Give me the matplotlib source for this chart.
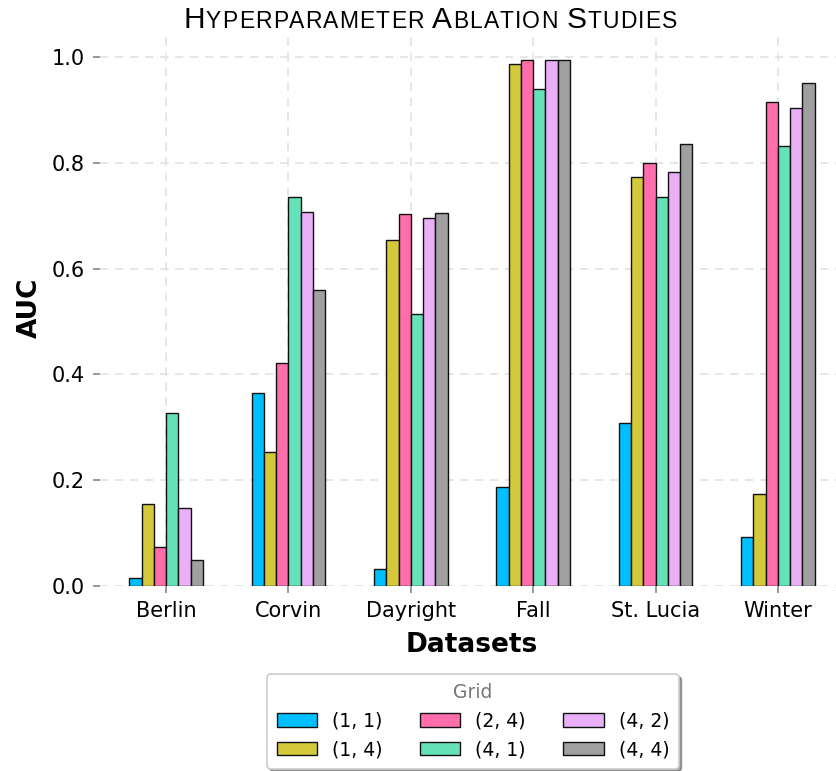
import matplotlib
matplotlib.use("Agg")
import matplotlib.pyplot as plt
import numpy as np
from matplotlib.offsetbox import TextArea, HPacker, AnnotationBbox

datasets = ["Berlin", "Corvin", "Dayright", "Fall", "St. Lucia", "Winter"]
grids = ["(1, 1)", "(1, 4)", "(2, 4)", "(4, 1)", "(4, 2)", "(4, 4)"]

auc_1_1 = [0.016, 0.365, 0.032, 0.188, 0.308, 0.093]
auc_1_4 = [0.155, 0.253, 0.654, 0.987, 0.774, 0.174]
auc_2_4 = [0.074, 0.421, 0.703, 0.995, 0.800, 0.915]
auc_4_1 = [0.327, 0.735, 0.514, 0.940, 0.735, 0.832]
auc_4_2 = [0.147, 0.707, 0.696, 0.995, 0.783, 0.903]
auc_4_4 = [0.050, 0.560, 0.705, 0.995, 0.836, 0.950]

series = [auc_1_1, auc_1_4, auc_2_4, auc_4_1, auc_4_2, auc_4_4]
colors = ["#00BFFF", "#D4C93A", "#FF6EAA", "#66E2B8", "#E9B0F7", "#A0A0A0"]

W, H = 837, 771
fig = plt.figure(figsize=(W / 100, H / 100), dpi=100)
ax = fig.add_axes([100 / W, 1 - 586 / H, (844 - 100) / W, (586 - 30.5) / H])

x = np.arange(len(datasets))
width = 0.1
for i, (vals, name, col) in enumerate(zip(series, grids, colors)):
    ax.bar(x + (i - 2.5) * width, vals, width, color=col, edgecolor="#111111",
           linewidth=1.0, label=name, zorder=3)

ax.set_xlim(-0.54, 5.54)
ax.set_ylim(0, 1.05)
ax.set_xticks(x)
ax.set_xticklabels(datasets)
ax.set_yticks(np.arange(0, 1.01, 0.2))
ax.set_yticklabels([f"{v:.1f}" for v in np.arange(0, 1.01, 0.2)])
ax.tick_params(axis="both", labelsize=15, length=5, width=1.2, color="#888888",
               pad=6)
for s in ax.spines.values():
    s.set_visible(False)
ax.grid(True, linestyle=(0, (5, 4)), color="#e2e2e2", linewidth=1.2, zorder=0)
ax.set_axisbelow(True)

ax.set_xlabel("Datasets", fontsize=19, fontweight="bold", labelpad=8)
ax.set_ylabel("AUC", fontsize=19, fontweight="bold", labelpad=6)

leg = ax.legend(title="Grid", ncol=3, loc="upper center",
                bbox_to_anchor=(473 / W, 1 - 674 / H),
                bbox_transform=fig.transFigure, borderaxespad=0,
                fontsize=13.5, title_fontsize=13.5, frameon=True, fancybox=True,
                shadow=True, handlelength=2.15, handleheight=0.75,
                handletextpad=0.8, columnspacing=2.0, labelspacing=0.5,
                borderpad=0.5, edgecolor="#cccccc")
leg.get_title().set_color("#777777")
leg.get_frame().set_linewidth(1.2)

# Small-caps, letter-spaced title built from individual glyphs
title_words = ["Hyperparameter", "Ablation", "Studies"]
title_font = ["Liberation Sans", "DejaVu Sans"]
parts = []
for k, w in enumerate(title_words):
    for j, ch in enumerate(w):
        size = 21.5 if j == 0 else 16.5
        parts.append(TextArea(ch.upper(), textprops=dict(fontsize=size, family=title_font, color="black")))
    if k < len(title_words) - 1:
        parts.append(TextArea(" ", textprops=dict(fontsize=16.5, family=title_font)))
pack = HPacker(children=parts, align="baseline", pad=0, sep=0.8)
ab = AnnotationBbox(pack, (430 / W, 1 - 34 / H), xycoords="figure fraction",
                    box_alignment=(0.5, 0.0), frameon=False)
fig.add_artist(ab)

fig.savefig("out.png", dpi=100)
